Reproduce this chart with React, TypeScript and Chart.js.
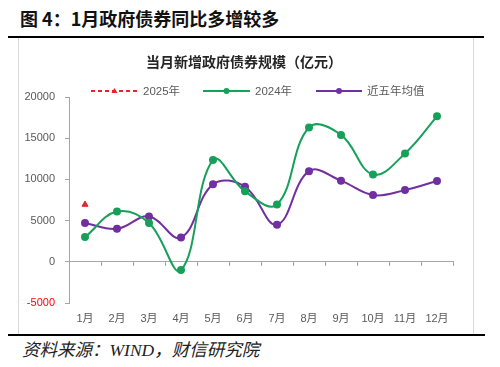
import React, { useEffect, useRef } from "react";
import { Chart, registerables } from "chart.js";
Chart.register(...registerables);

const months = ["1月", "2月", "3月", "4月", "5月", "6月", "7月", "8月", "9月", "10月", "11月", "12月"];
const series2025: (number | null)[] = [6950, null, null, null, null, null, null, null, null, null, null, null];
const series2024 = [3000, 6100, 4700, -1000, 12350, 8550, 6950, 16300, 15400, 10600, 13150, 17650];
const seriesAvg = [4700, 4000, 5500, 2950, 9400, 9100, 4500, 11000, 9850, 8100, 8700, 9800];
const seriesNames = ["2025年", "2024年", "近五年均值"];
const yMin = -5000;
const yMax = 20000;
const yStep = 5000;
const figureTitle = "图 4：1月政府债券同比多增较多";
const chartTitle = "当月新增政府债券规模（亿元）";
const sourceText = "资料来源：WIND，财信研究院";

const RED = "#e8232a";
const GREEN = "#17a05a";
const PURPLE = "#7030a0";
const AXIS = "#a6a6a6";
const LABEL = "#595959";

const legendPlugin = {
  id: "customLegend",
  afterDraw(chart: any) {
    const ctx = chart.ctx;
    ctx.save();
    // chart title
    ctx.fillStyle = "#262626";
    ctx.font = 'bold 14px "Noto Sans CJK SC"';
    ctx.textAlign = "center";
    ctx.textBaseline = "middle";
    ctx.fillText(chartTitle, 225, 24);
    // legend
    const y = 53;
    const items = [
      { x0: 72, x1: 119, tx: 124, ds: 0 },
      { x0: 184, x1: 231, tx: 236, ds: 1 },
      { x0: 297, x1: 343, tx: 348, ds: 2 },
    ];
    ctx.font = '11.5px "Liberation Sans","Noto Sans CJK SC"';
    ctx.textAlign = "left";
    for (const it of items) {
      const ds = chart.data.datasets[it.ds];
      ctx.strokeStyle = ds.borderColor;
      ctx.lineWidth = 2;
      ctx.setLineDash(ds.borderDash || []);
      ctx.beginPath();
      ctx.moveTo(it.x0, y);
      ctx.lineTo(it.x1, y);
      ctx.stroke();
      ctx.setLineDash([]);
      const mx = (it.x0 + it.x1) / 2;
      ctx.fillStyle = ds.pointBackgroundColor;
      ctx.beginPath();
      if (ds.pointStyle === "triangle") {
        ctx.moveTo(mx, y - 3);
        ctx.lineTo(mx + 3, y + 2);
        ctx.lineTo(mx - 3, y + 2);
        ctx.closePath();
      } else {
        ctx.arc(mx, y, 3, 0, Math.PI * 2);
      }
      ctx.fill();
      ctx.fillStyle = LABEL;
      ctx.fillText(ds.label, it.tx, y + 1);
    }
    ctx.restore();
  },
};

export default function App() {
  const ref = useRef<HTMLCanvasElement>(null);
  useEffect(() => {
    if (!ref.current) return;
    const chart = new Chart(ref.current, {
      type: "line",
      data: {
        labels: months,
        datasets: [
          {
            label: seriesNames[0],
            data: series2025,
            borderColor: RED,
            backgroundColor: RED,
            pointBackgroundColor: RED,
            pointBorderColor: RED,
            borderDash: [4, 3],
            borderWidth: 2,
            pointStyle: "triangle",
            pointRadius: 3.5,
            pointBorderWidth: 1,
            fill: false,
          },
          {
            label: seriesNames[1],
            data: series2024,
            borderColor: GREEN,
            backgroundColor: GREEN,
            pointBackgroundColor: GREEN,
            pointBorderColor: GREEN,
            borderWidth: 2,
            pointRadius: 3,
            tension: 0.4,
            fill: false,
          },
          {
            label: seriesNames[2],
            data: seriesAvg,
            borderColor: PURPLE,
            backgroundColor: PURPLE,
            pointBackgroundColor: PURPLE,
            pointBorderColor: PURPLE,
            borderWidth: 2,
            pointRadius: 3,
            tension: 0.4,
            fill: false,
          },
        ],
      },
      options: {
        animation: false,
        responsive: false,
        maintainAspectRatio: false,
        layout: { padding: { top: 59, right: 20, left: 0, bottom: 0 } },
        plugins: {
          legend: { display: false },
          title: { display: false },
          tooltip: { enabled: false },
        },
        scales: {
          x: {
            type: "category",
            position: { y: 0 } as any,
            offset: true,
            grid: {
              display: true,
              drawOnChartArea: false,
              drawTicks: true,
              tickLength: 4,
              offset: true,
              color: AXIS,
            },
            border: { display: true, color: AXIS, width: 1 },
            ticks: { display: false },
          },
          x2: {
            type: "category",
            labels: months,
            position: "bottom",
            offset: true,
            grid: { display: false, drawTicks: false },
            border: { display: false },
            ticks: {
              color: LABEL,
              padding: 9,
              maxRotation: 0,
              autoSkip: false,
              font: { family: '"Liberation Sans","Noto Sans CJK SC"', size: 11 },
            },
            afterFit(scale: any) {
              scale.height = 31;
            },
          },
          y: {
            min: yMin,
            max: yMax,
            position: "left",
            grid: {
              display: true,
              drawOnChartArea: false,
              drawTicks: true,
              tickLength: 4,
              color: AXIS,
            },
            border: { display: true, color: AXIS, width: 1 },
            ticks: {
              stepSize: yStep,
              padding: 10,
              color: (c: any) => (c.tick && c.tick.value < 0 ? "#ff0000" : LABEL),
              font: { family: '"Liberation Sans"', size: 11 },
              callback: (v: any) => String(v),
            },
            afterFit(scale: any) {
              scale.width = 50;
            },
          },
        },
      },
      plugins: [legendPlugin],
    } as any);
    return () => chart.destroy();
  }, []);

  return (
    <div style={{ position: "absolute", left: 0, top: 0, width: 500, height: 367, background: "#fff", overflow: "hidden" }}>
      <div
        style={{
          position: "absolute",
          left: 20,
          top: 6,
          fontFamily: '"Noto Sans CJK SC"',
          fontWeight: 700,
          fontSize: 18,
          lineHeight: "24px",
          color: "#111",
          whiteSpace: "nowrap",
        }}
      >
        {figureTitle}
      </div>
      <div style={{ position: "absolute", left: 8, top: 36, width: 476, height: 2, background: "#000" }} />
      <div
        style={{
          position: "absolute",
          left: 18,
          top: 38,
          width: 454,
          height: 296,
          borderLeft: "1px solid #d9d9d9",
          borderRight: "1px solid #d9d9d9",
        }}
      />
      <canvas ref={ref} width={454} height={296} style={{ position: "absolute", left: 19, top: 38, width: 454, height: 296 }} />
      <div style={{ position: "absolute", left: 8, top: 334, width: 477, height: 2, background: "#000" }} />
      <div
        style={{
          position: "absolute",
          left: 22,
          top: 339,
          fontFamily: '"Liberation Serif","Noto Sans CJK SC"',
          fontStyle: "italic",
          fontSize: 17.5,
          lineHeight: "22px",
          color: "#222",
          whiteSpace: "nowrap",
        }}
      >
        {sourceText}
      </div>
    </div>
  );
}
